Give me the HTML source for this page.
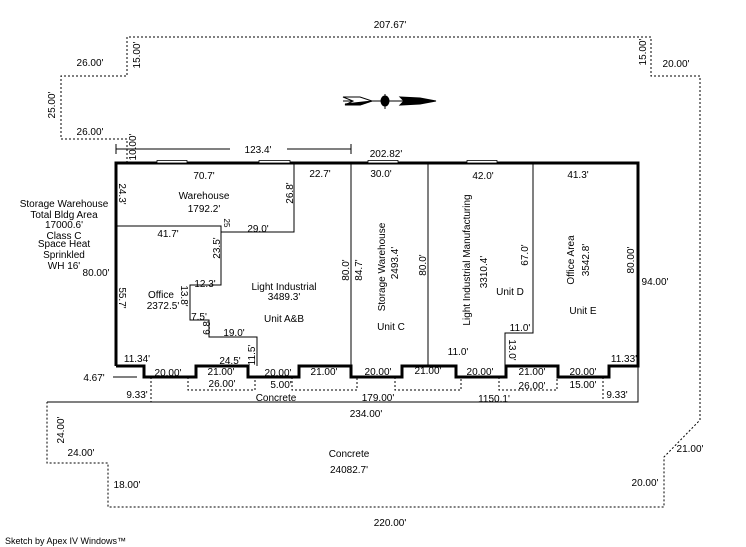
<!DOCTYPE html>
<html><head><meta charset="utf-8"><style>
html,body{margin:0;padding:0;background:#fff;}
svg{display:block;}
text{font-family:"Liberation Sans",Arial,sans-serif;font-size:10px;fill:#000;}
.c{text-anchor:middle;}
</style></head><body>
<svg width="746" height="547" viewBox="0 0 746 547" xmlns="http://www.w3.org/2000/svg">
<g fill="none" stroke="#000" stroke-width="1" stroke-dasharray="2,2">
<polyline points="127,163 127,139 61,139 61,76 127,76 127,37 651,37 651,76 700,76 700,420 664,457 664,507 108,507 108,463 47,463 47,402"/>
<polyline points="151,377 151,402"/>
<polyline points="188,377 188,390 255,390 255,377"/>
<polyline points="292,377 292,390 357,390 357,377"/>
<polyline points="395,377 395,390 461,390 461,377"/>
<polyline points="499,377 499,390 557,390 557,377"/>
<polyline points="603,377 603,401"/>
</g>
<g fill="none" stroke="#000" stroke-width="1">
<polyline points="47,402 638,402 638,366"/>
<line x1="116" y1="149" x2="230" y2="149"/><line x1="287" y1="149" x2="351" y2="149"/>
<line x1="116" y1="144" x2="116" y2="154"/><line x1="351" y1="144" x2="351" y2="154"/>
<line x1="351" y1="163" x2="351" y2="377"/>
<line x1="428" y1="163" x2="428" y2="366"/>
<polyline points="533,163 533,333 505,333 505,377"/>
<polyline points="116,226 221,226 221,285 190,285 190,320 209,320 209,337 257,337 257,366"/>
<polyline points="221,232 294,232 294,163"/>
<line x1="113" y1="377" x2="137" y2="377"/>
</g>
<polyline fill="none" stroke="#000" stroke-width="3" points="116,366 116,163 638,163 638,366 609,366 609,377 558,377 558,366 506,366 506,377 456,377 456,366 402,366 402,377 351,377 351,366 299,366 299,377 248,377 248,366 196,366 196,377 144,377 144,366 116,366"/>
<g fill="#fff" stroke="#000" stroke-width="0.8">
<rect x="157" y="160.5" width="30" height="2.5"/><rect x="259" y="160.5" width="31" height="2.5"/>
<rect x="368" y="160.5" width="30" height="2.5"/><rect x="467" y="160.5" width="30" height="2.5"/>
</g>
<!-- compass -->
<g stroke="#000" fill="#000">
<line x1="343" y1="101" x2="436" y2="101" stroke-width="1"/>
<polygon points="343,97 360,97 372,101 360,105 345,105 353,101" fill="#fff"/>
<polygon points="345,104 372,101 360,105"/>
<ellipse cx="385" cy="101" rx="4" ry="5"/>
<line x1="385" y1="94" x2="385" y2="109"/>
<polygon points="400,97 420,98 436,101 420,104 400,105 404,101"/>
</g>
<g>
<text x="390" y="28" class="c">207.67'</text>
<text x="90" y="66" class="c">26.00'</text>
<text x="676" y="67" class="c">20.00'</text>
<text x="90" y="135" class="c">26.00'</text>
<text x="258" y="153" class="c">123.4'</text>
<text x="386" y="157" class="c">202.82'</text>
<text x="204" y="179" class="c">70.7'</text>
<text x="320" y="177" class="c">22.7'</text>
<text x="381" y="177" class="c">30.0'</text>
<text x="483" y="179" class="c">42.0'</text>
<text x="578" y="178" class="c">41.3'</text>
<text x="204" y="199" class="c">Warehouse</text>
<text x="204" y="212" class="c">1792.2'</text>
<text x="64" y="207" class="c">Storage Warehouse</text>
<text x="64" y="218" class="c">Total Bldg Area</text>
<text x="64" y="228" class="c">17000.6'</text>
<text x="64" y="239" class="c">Class C</text>
<text x="64" y="247" class="c">Space Heat</text>
<text x="64" y="258" class="c">Sprinkled</text>
<text x="64" y="269" class="c">WH 16'</text>
<text x="168" y="237" class="c">41.7'</text>
<text x="258" y="232" class="c">29.0'</text>
<text x="96" y="276" class="c">80.00'</text>
<text x="205" y="287" class="c">12.3'</text>
<text x="161" y="298" class="c">Office</text>
<text x="163" y="309" class="c">2372.5'</text>
<text x="284" y="290" class="c">Light Industrial</text>
<text x="284" y="300" class="c">3489.3'</text>
<text x="284" y="322" class="c">Unit A&amp;B</text>
<text x="199" y="320" class="c">7.5'</text>
<text x="234" y="336" class="c">19.0'</text>
<text x="137" y="362" class="c">11.34'</text>
<text x="230" y="364" class="c">24.5'</text>
<text x="391" y="330" class="c">Unit C</text>
<text x="510" y="295" class="c">Unit D</text>
<text x="583" y="314" class="c">Unit E</text>
<text x="655" y="285" class="c">94.00'</text>
<text x="458" y="355" class="c">11.0'</text>
<text x="520" y="331" class="c">11.0'</text>
<text x="624" y="362" class="c">11.33'</text>
<text x="168" y="376" class="c">20.00'</text>
<text x="221" y="375" class="c">21.00'</text>
<text x="278" y="376" class="c">20.00'</text>
<text x="324" y="375" class="c">21.00'</text>
<text x="378" y="375" class="c">20.00'</text>
<text x="428" y="374" class="c">21.00'</text>
<text x="480" y="375" class="c">20.00'</text>
<text x="532" y="375" class="c">21.00'</text>
<text x="583" y="375" class="c">20.00'</text>
<text x="94" y="381" class="c">4.67'</text>
<text x="222" y="387" class="c">26.00'</text>
<text x="281" y="388" class="c">5.00'</text>
<text x="532" y="389" class="c">26.00'</text>
<text x="583" y="388" class="c">15.00'</text>
<text x="137" y="398" class="c">9.33'</text>
<text x="617" y="398" class="c">9.33'</text>
<text x="276" y="401" class="c">Concrete</text>
<text x="378" y="401" class="c">179.00'</text>
<text x="494" y="402" class="c">1150.1'</text>
<text x="366" y="417" class="c">234.00'</text>
<text x="81" y="456" class="c">24.00'</text>
<text x="349" y="457" class="c">Concrete</text>
<text x="349" y="473" class="c">24082.7'</text>
<text x="127" y="488" class="c">18.00'</text>
<text x="645" y="486" class="c">20.00'</text>
<text x="690" y="452" class="c">21.00'</text>
<text x="390" y="526" class="c">220.00'</text>
<text x="5" y="544" style="font-size:9px">Sketch by Apex IV Windows™</text>
</g>
<g>
<text transform="translate(140,55) rotate(-90)" class="c">15.00'</text>
<text transform="translate(646,52) rotate(-90)" class="c">15.00'</text>
<text transform="translate(55,105) rotate(-90)" class="c">25.00'</text>
<text transform="translate(136,147) rotate(-90)" class="c">10.00'</text>
<text transform="translate(119,194) rotate(90)" class="c">24.3'</text>
<text transform="translate(293,193) rotate(-90)" class="c">26.8'</text>
<text transform="translate(224,223) rotate(90)" class="c" style="font-size:8px">25</text>
<text transform="translate(220,248) rotate(-90)" class="c">23.5'</text>
<text transform="translate(119,298) rotate(90)" class="c">55.7'</text>
<text transform="translate(181,296) rotate(90)" class="c">13.8'</text>
<text transform="translate(210,327) rotate(-90)" class="c">6.8'</text>
<text transform="translate(255,355) rotate(-90)" class="c">11.5'</text>
<text transform="translate(349,270) rotate(-90)" class="c">80.0'</text>
<text transform="translate(362,270) rotate(-90)" class="c">84.7'</text>
<text transform="translate(385,267) rotate(-90)" class="c">Storage Warehouse</text>
<text transform="translate(398,263) rotate(-90)" class="c">2493.4'</text>
<text transform="translate(426,265) rotate(-90)" class="c">80.0'</text>
<text transform="translate(470,260) rotate(-90)" class="c">Light Industrial Manufacturing</text>
<text transform="translate(487,272) rotate(-90)" class="c">3310.4'</text>
<text transform="translate(528,255) rotate(-90)" class="c">67.0'</text>
<text transform="translate(574,260) rotate(-90)" class="c">Office Area</text>
<text transform="translate(589,260) rotate(-90)" class="c">3542.8'</text>
<text transform="translate(634,260) rotate(-90)" class="c">80.00'</text>
<text transform="translate(509,350) rotate(90)" class="c">13.0'</text>
<text transform="translate(64,430) rotate(-90)" class="c">24.00'</text>
</g>
</svg>
</body></html>
